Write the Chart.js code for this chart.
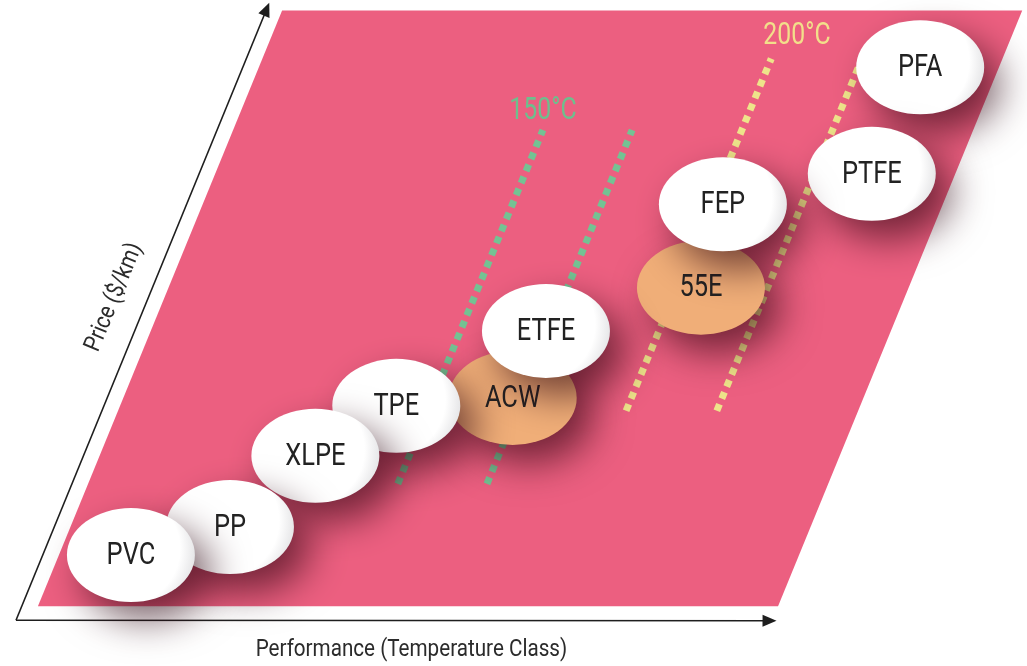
<!DOCTYPE html>
<html>
<head>
<meta charset="utf-8">
<script src="https://cdn.jsdelivr.net/npm/chart.js@4.4.1/dist/chart.umd.min.js"></script>
<style>
  html, body { margin: 0; padding: 0; background: #fff; }
  canvas { display: block; }
</style>
</head>
<body>
<canvas id="cable_chart" width="1027" height="666"></canvas>
<script>
// materials, performance (x, 0-100 along the arrow) and price (y, 0-100)
const materials = ["PVC", "PP", "XLPE", "TPE", "ACW", "ETFE", "55E", "FEP", "PTFE", "PFA"];
const performance = [15.2, 28.3, 39.6, 50.3, 65.7, 70.1, 90.6, 93.5, 113.2, 119.6];
const price = [10.5, 15.1, 26.8, 35.0, 36.3, 47.3, 54.4, 68.1, 73.1, 90.6];
const kind = ["white", "white", "white", "white", "orange", "white", "orange", "white", "white", "white"];

// temperature class guide lines (bottom point, top point)
const tempLines = [
  { color: "#74C293", from: [50.5, 22.2], to: [69.7, 80.3] },
  { color: "#74C293", from: [62.3, 22.2], to: [81.5, 80.3] },
  { color: "#EEE48A", from: [80.7, 34.2], to: [99.9, 92.0] },
  { color: "#EEE48A", from: [92.7, 34.2], to: [111.9, 92.0] }
];
const tempLabels = ["150°C", "200°C"];
const tempLabelPos = [[69.7, 83.4], [103.3, 95.7]];
const tempLabelColors = ["#6EBF8D", "#F2DF8A"];

// the pink plane
const plane = [[2.9, 2.1], [100.8, 2.1], [133.1, 99.9], [35.2, 99.9]];

const xTitle = "Performance (Temperature Class)";
const yTitle = "Price ($/km)";

const FONT = "'Roboto', sans-serif";

var datasets = tempLines.map((l) => ({
  type: "line",
  data: [{ x: l.from[0], y: l.from[1] }, { x: l.to[0], y: l.to[1] }],
  borderColor: l.color,
  borderWidth: 7,
  borderDash: [7, 6],
  borderCapStyle: "butt",
  pointRadius: 0,
  fill: false
}));

datasets.push({
  type: "scatter",
  label: "materials",
  data: materials.map((m, i) => ({ x: performance[i], y: price[i] })),
  pointRadius: 0,
  pointHoverRadius: 0
});

// narrow text, roboto squeezed sideways
function narrowText(ctx, text, x, y, sx) {
  ctx.save();
  ctx.translate(x, y);
  ctx.scale(sx, 1);
  ctx.fillText(text, 0, 0);
  ctx.restore();
}

function arrow(ctx, x1, y1, x2, y2) {
  var a = Math.atan2(y2 - y1, x2 - x1);
  ctx.beginPath();
  ctx.moveTo(x1, y1);
  ctx.lineTo(x2 - 10 * Math.cos(a), y2 - 10 * Math.sin(a));
  ctx.stroke();
  ctx.beginPath();
  ctx.moveTo(x2, y2);
  ctx.lineTo(x2 - 14 * Math.cos(a) + 6 * Math.sin(a), y2 - 14 * Math.sin(a) - 6 * Math.cos(a));
  ctx.lineTo(x2 - 14 * Math.cos(a) - 6 * Math.sin(a), y2 - 14 * Math.sin(a) + 6 * Math.cos(a));
  ctx.closePath();
  ctx.fill();
}

const planePlugin = {
  id: "plane",
  beforeDatasetsDraw(chart) {
    const ctx = chart.ctx, xs = chart.scales.x, ys = chart.scales.y;
    ctx.save();
    ctx.beginPath();
    plane.forEach((p, i) => {
      const px = xs.getPixelForValue(p[0]), py = ys.getPixelForValue(p[1]);
      if (i == 0) ctx.moveTo(px, py); else ctx.lineTo(px, py);
    });
    ctx.closePath();
    ctx.fillStyle = "#EC5F80";
    ctx.fill();

    // axes arrows
    ctx.strokeStyle = "#1e1e1e";
    ctx.fillStyle = "#1e1e1e";
    ctx.lineWidth = 1.6;
    const ox = xs.getPixelForValue(0), oy = ys.getPixelForValue(-0.2);
    arrow(ctx, ox, oy, xs.getPixelForValue(100.6), ys.getPixelForValue(-0.3));
    arrow(ctx, ox, oy, xs.getPixelForValue(33.5), ys.getPixelForValue(101.2));

    // axis titles
    ctx.fillStyle = "#2b2b2b";
    ctx.font = "24px " + FONT;
    ctx.textAlign = "center";
    ctx.textBaseline = "middle";
    narrowText(ctx, xTitle, xs.getPixelForValue(52.3), ys.getPixelForValue(-5.1), 0.86);
    ctx.translate(xs.getPixelForValue(13.0), ys.getPixelForValue(52.8));
    ctx.rotate(-Math.atan2(609, 253));
    narrowText(ctx, yTitle, 0, 0, 0.86);
    ctx.restore();
  },
  afterDatasetsDraw(chart) {
    const ctx = chart.ctx, xs = chart.scales.x, ys = chart.scales.y;
    const meta = chart.getDatasetMeta(chart.data.datasets.length - 1);
    ctx.save();
    ctx.font = "31px " + FONT;
    ctx.textAlign = "center";
    ctx.textBaseline = "middle";
    tempLabels.forEach((t, i) => {
      ctx.fillStyle = tempLabelColors[i];
      narrowText(ctx, t, xs.getPixelForValue(tempLabelPos[i][0]), ys.getPixelForValue(tempLabelPos[i][1]), 0.8);
    });

    // orange ones sit at the back, then whites from top-right to bottom-left
    var order = [];
    kind.forEach((k, i) => { if (k == "orange") order.push(i); });
    for (let i = materials.length - 1; i >= 0; i--) if (kind[i] == "white") order.push(i);

    const rx = 64, ry = 47;
    order.forEach((i) => {
      const pt = meta.data[i];
      ctx.save();
      ctx.shadowColor = "rgba(40, 0, 12, 0.62)";
      ctx.shadowBlur = 38;
      ctx.shadowOffsetX = 16;
      ctx.shadowOffsetY = 18;
      ctx.beginPath();
      ctx.ellipse(pt.x, pt.y, rx, ry, 0, 0, Math.PI * 2);
      if (kind[i] == "orange") {
        ctx.fillStyle = "#F0AE78";
      } else {
        const g = ctx.createRadialGradient(pt.x - 15, pt.y - 10, 10, pt.x - 5, pt.y - 5, rx + 8);
        g.addColorStop(0, "#ffffff");
        g.addColorStop(0.75, "#ffffff");
        g.addColorStop(1, "#e2e2e4");
        ctx.fillStyle = g;
      }
      ctx.fill();
      ctx.restore();
      ctx.fillStyle = "#222";
      narrowText(ctx, materials[i], pt.x, pt.y + 1, 0.82);
    });
    ctx.restore();
  }
};

const renderChart = () => {
  var ctx = document.getElementById("cable_chart").getContext("2d");
  new Chart(ctx, {
    data: { datasets: datasets },
    options: {
      responsive: false,
      animation: false,
      layout: { padding: 0 },
      plugins: { legend: { display: false }, tooltip: { enabled: false } },
      scales: {
        x: { type: "linear", display: false, min: -2.116, max: 133.73 },
        y: { type: "linear", display: false, min: -7.718, max: 101.64 }
      }
    },
    plugins: [planePlugin]
  });
};
renderChart();
</script>
</body>
</html>
